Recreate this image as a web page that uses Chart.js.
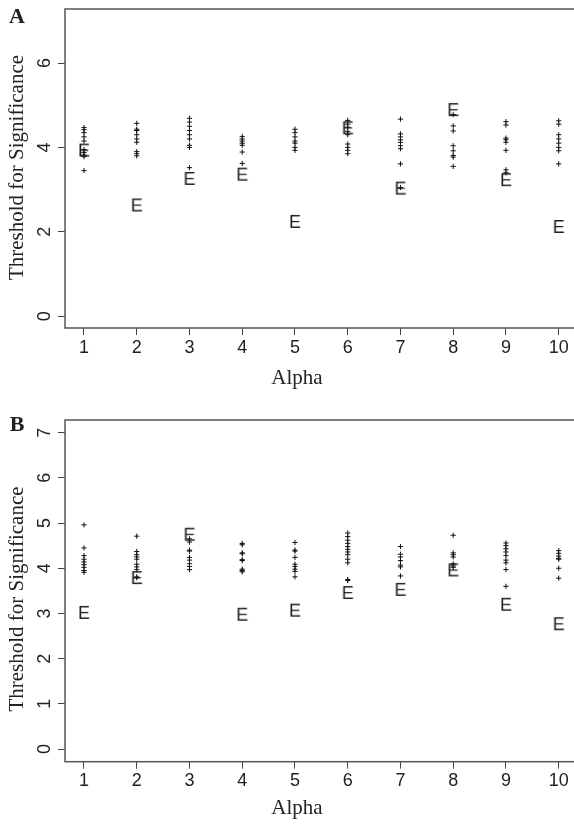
<!DOCTYPE html>
<html>
<head>
<meta charset="utf-8">
<script src="https://cdn.jsdelivr.net/npm/chart.js@4.4.0/dist/chart.umd.min.js"></script>
<style>
  html, body { margin: 0; padding: 0; background: #fff; width: 574px; height: 825px; overflow: hidden; }
  .panel { position: absolute; left: 0; width: 600px; }
</style>
</head>
<body>
<div class="panel" style="top:0;height:410px"><canvas id="chartA" width="600" height="410"></canvas></div>
<div class="panel" style="top:410px;height:415px"><canvas id="chartB" width="600" height="415"></canvas></div>
<script>
// Alpha levels on the x axis
const alphas = [1, 2, 3, 4, 5, 6, 7, 8, 9, 10];

// y tick values for each panel
const yTicksA = [0, 2, 4, 6];
const yTicksB = [0, 1, 2, 3, 4, 5, 6, 7];

// Panel A: thresholds drawn as "+" (one list per alpha) and the "E" value
const plusA = [
  [4.47, 4.42, 4.35, 4.25, 4.15, 3.95, 3.88, 3.82, 3.78, 3.45],
  [4.57, 4.43, 4.40, 4.30, 4.20, 4.12, 3.90, 3.85, 3.80],
  [4.69, 4.60, 4.50, 4.40, 4.30, 4.20, 4.05, 4.00, 3.52],
  [4.26, 4.20, 4.15, 4.10, 4.05, 3.89, 3.62],
  [4.43, 4.35, 4.25, 4.15, 4.10, 4.00, 3.93],
  [4.64, 4.55, 4.48, 4.38, 4.30, 4.08, 4.00, 3.93, 3.85],
  [4.67, 4.32, 4.25, 4.18, 4.12, 4.04, 3.97, 3.61, 3.05],
  [4.78, 4.51, 4.39, 4.04, 3.92, 3.81, 3.77, 3.55],
  [4.61, 4.53, 4.22, 4.18, 4.12, 3.93, 3.47, 3.40],
  [4.63, 4.55, 4.30, 4.20, 4.10, 4.00, 3.92, 3.61]
];
const eA = [3.90, 2.60, 3.23, 3.33, 2.21, 4.43, 3.00, 4.86, 3.20, 2.09];

// Panel B
const plusB = [
  [4.96, 4.45, 4.28, 4.20, 4.14, 4.08, 4.02, 3.95, 3.91],
  [4.71, 4.37, 4.30, 4.25, 4.20, 4.09, 4.03, 3.97, 3.81, 3.79],
  [4.65, 4.58, 4.40, 4.38, 4.24, 4.18, 4.10, 4.04, 3.97],
  [4.55, 4.52, 4.34, 4.32, 4.19, 4.17, 3.98, 3.95, 3.92],
  [4.57, 4.40, 4.38, 4.24, 4.09, 4.04, 3.98, 3.93, 3.81],
  [4.78, 4.70, 4.62, 4.55, 4.48, 4.42, 4.36, 4.30, 4.20, 4.12, 3.75, 3.73],
  [4.48, 4.31, 4.25, 4.17, 4.07, 4.03, 3.83],
  [4.73, 4.34, 4.30, 4.25, 4.10, 4.05, 4.02],
  [4.56, 4.50, 4.43, 4.36, 4.28, 4.18, 4.12, 3.97, 3.60],
  [4.39, 4.33, 4.27, 4.22, 4.20, 4.00, 3.78]
];
const eB = [2.99, 3.76, 4.72, 2.95, 3.04, 3.43, 3.50, 3.93, 3.17, 2.74];

const SANS = '"Liberation Sans", Arial, sans-serif';
const SERIF = '"Liberation Serif", "Times New Roman", serif';
const INK = '#222';

// "E" glyph used as a point marker
function letterMarker(ch) {
  const c = document.createElement('canvas');
  c.width = 16; c.height = 18;
  const g = c.getContext('2d');
  g.fillStyle = '#1e1e1e';
  g.font = '18px ' + SANS;
  g.textAlign = 'center';
  g.textBaseline = 'middle';
  g.fillText(ch, 8, 9.5);
  return c;
}
const eMarker = letterMarker('E');

// box around the plot region, rotated y tick labels, axis titles, panel letter
const framePlugin = {
  id: 'framePlugin',
  afterDraw(chart, args, opts) {
    const { ctx, chartArea: a, scales: { y } } = chart;
    ctx.save();
    ctx.strokeStyle = '#555';
    ctx.lineWidth = 1.5;
    ctx.strokeRect(a.left, a.top, a.right - a.left, a.bottom - a.top);

    ctx.fillStyle = INK;
    ctx.textAlign = 'center';
    ctx.textBaseline = 'middle';
    ctx.font = '18px ' + SANS;
    y.ticks.forEach(t => {
      const py = y.getPixelForValue(t.value);
      ctx.save();
      ctx.translate(a.left - 20, py);
      ctx.rotate(-Math.PI / 2);
      ctx.fillText(String(t.value), 0, 0);
      ctx.restore();
    });

    ctx.font = '21px ' + SERIF;
    ctx.fillText('Alpha', 297, opts.xTitleY);
    ctx.save();
    ctx.translate(17, opts.yTitleY);
    ctx.rotate(-Math.PI / 2);
    ctx.fillText('Threshold for Significance', 0, 0);
    ctx.restore();

    ctx.font = 'bold 22px ' + SERIF;
    ctx.fillText(opts.panel, 17, opts.panelY);
    ctx.restore();
  }
};

function makePanel(id, panel, plus, evals, yTicks, g) {
  const plusPts = [];
  plus.forEach((vals, i) => vals.forEach(v => plusPts.push({ x: alphas[i], y: v })));
  const ePts = evals.map((v, i) => ({ x: alphas[i], y: v }));
  const axisGrid = { drawOnChartArea: false, drawTicks: true, tickLength: 7, color: '#444', lineWidth: 1 };

  new Chart(document.getElementById(id), {
    type: 'scatter',
    data: {
      datasets: [
        { data: plusPts, pointStyle: 'cross', pointRadius: 2.6, borderColor: '#111', borderWidth: 1, pointHoverRadius: 2.6 },
        { data: ePts, pointStyle: eMarker, pointRadius: 8 }
      ]
    },
    options: {
      responsive: false,
      animation: false,
      events: [],
      layout: { padding: { top: g.top, right: 22.3, left: 0, bottom: 0 } },
      plugins: {
        legend: { display: false },
        tooltip: { enabled: false },
        framePlugin: { panel: panel, panelY: g.panelY, xTitleY: g.xTitleY, yTitleY: g.yTitleY }
      },
      scales: {
        x: {
          type: 'linear',
          min: 0.64, max: 10.36,
          afterBuildTicks: s => { s.ticks = alphas.map(v => ({ value: v })); },
          afterFit: s => { s.height = g.xHeight; },
          grid: axisGrid,
          border: { display: false },
          ticks: { font: { family: SANS, size: 18 }, color: INK, padding: 2, maxRotation: 0, autoSkip: false }
        },
        y: {
          type: 'linear',
          min: -0.28, max: 7.28,
          afterBuildTicks: s => { s.ticks = yTicks.map(v => ({ value: v })); },
          afterFit: s => { s.width = 65; },
          grid: axisGrid,
          border: { display: false },
          ticks: { display: false }
        }
      }
    },
    plugins: [framePlugin]
  });
}

makePanel('chartA', 'A', plusA, eA, yTicksA, { top: 5, xHeight: 82, panelY: 17, xTitleY: 378, yTitleY: 167.5 });
makePanel('chartB', 'B', plusB, eB, yTicksB, { top: 10, xHeight: 63.3, panelY: 15, xTitleY: 398, yTitleY: 189 });
</script>
</body>
</html>
